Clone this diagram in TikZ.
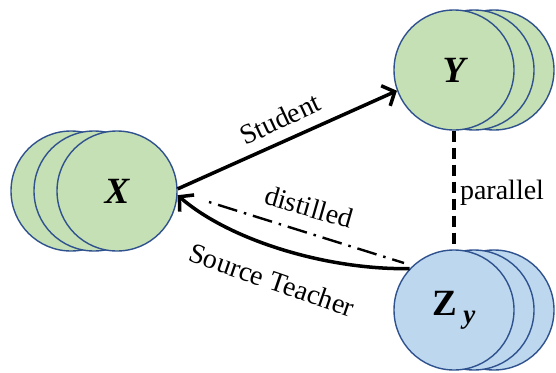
\documentclass[tikz,border=0pt]{standalone}
\usepackage{fontspec}
\setmainfont{Liberation Serif}
\usetikzlibrary{arrows.meta}
\definecolor{gfill}{RGB}{197,224,180}
\definecolor{bfill}{RGB}{189,215,238}
\definecolor{edgec}{RGB}{47,82,143}
\begin{document}
\begin{tikzpicture}[x=1pt,y=-1pt,
  disc/.style={circle, draw=edgec, line width=1.4pt, minimum size=120pt, inner sep=0pt},
  gdisc/.style={disc, fill=gfill},
  bdisc/.style={disc, fill=bfill},
  lab/.style={font=\fontsize{28}{30}\selectfont, inner sep=0pt},
  big/.style={font=\fontsize{37}{40}\selectfont\bfseries\itshape},
  arr/.style={line width=3.5pt, -{Straight Barb[length=10pt,width=22pt]}},
]
\useasboundingbox (0,0) rectangle (556,372);
% X stack
\node[gdisc] (x3) at (71,191) {};
\node[gdisc] (x2) at (94,191) {};
\node[gdisc, big] (x) at (117,191) {X};
% Y stack
\node[gdisc] (y3) at (494,70) {};
\node[gdisc] (y2) at (474,70) {};
\node[gdisc, big] (y) at (454,70) {Y};
% Zy stack
\node[bdisc] (z3) at (494,310) {};
\node[bdisc] (z2) at (474,310) {};
\node[bdisc] (z) at (454,310) {\fontsize{37}{40}\selectfont\bfseries Z\,\raisebox{-8pt}{\fontsize{27}{30}\selectfont\bfseries\itshape y}};
% connectors
\draw[arr] (x.2) -- (y.200);
\draw[arr] (z.137) .. controls (330,270) and (232,242) .. (x.-4);
\coordinate (d1) at (209,202);
\coordinate (d2) at (404,263);
\draw[line width=2.4pt, dash pattern=on 2.5pt off 7pt on 20pt off 7pt] (d1) -- (d2);
\draw[line width=3.2pt, dash pattern=on 11pt off 6pt] (y.south) -- (z.north);
% labels
\node[lab, rotate=25] (ls) at (280,119) {Student};
\node[lab, rotate=-16] (ld) at (309,207) {distilled};
\node[lab, rotate=-19] (lt) at (272,280) {Source Teacher};
\node[lab] (lp) at (502,193) {parallel};
\end{tikzpicture}
\end{document}
